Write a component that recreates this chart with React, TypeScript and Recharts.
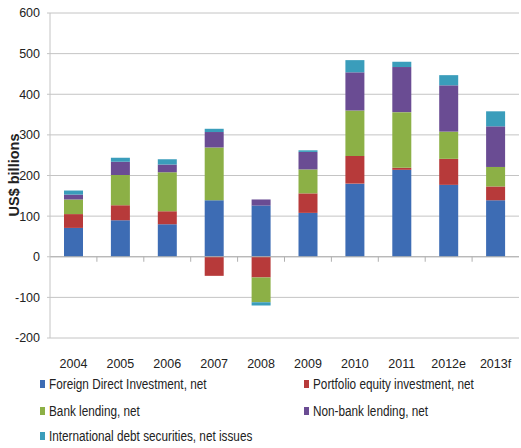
import React from "react";
import { BarChart, Bar, XAxis, YAxis, CartesianGrid, Label, ReferenceLine } from "recharts";

const years = ["2004", "2005", "2006", "2007", "2008", "2009", "2010", "2011", "2012e", "2013f"];
const fdi = [71, 90, 80, 139, 126, 108, 180, 214, 177, 139];
const portfolio = [34, 37, 32, -47, -51, 48, 68, 5, 64, 34];
const bank = [36, 74, 96, 130, -61, 59, 112, 137, 67, 48];
const nonBank = [12, 33, 19, 38, 15, 43, 94, 111, 114, 100];
const debtSec = [10, 10, 13, 8, -8, 4, 30, 13, 25, 37];
const yTicks = [-200, -100, 0, 100, 200, 300, 400, 500, 600];

const series = [
    { key: "fdi", name: "Foreign Direct Investment, net", color: "#3d6cb4" },
    { key: "portfolio", name: "Portfolio equity investment, net", color: "#b73a3a" },
    { key: "bank", name: "Bank lending, net", color: "#8cb046" },
    { key: "nonBank", name: "Non-bank lending, net", color: "#6a4c93" },
    { key: "debtSec", name: "International debt securities, net issues", color: "#3a9dbb" },
];

const data = years.map((year, i) => ({
    year,
    fdi: fdi[i],
    portfolio: portfolio[i],
    bank: bank[i],
    nonBank: nonBank[i],
    debtSec: debtSec[i],
}));

const font = "'Liberation Sans', Arial, sans-serif";

// zero line with small category-boundary ticks, like the Excel axis
function ZeroAxis(props: any) {
    const { x1, x2, y1 } = props;
    const step = (x2 - x1) / years.length;
    return (
        <g>
            <line x1={x1} x2={x2} y1={y1} y2={y1} stroke="#b0b0b0" />
            {years.slice(1).map((_, i) => (
                <line
                    key={i}
                    x1={x1 + step * (i + 1)}
                    x2={x1 + step * (i + 1)}
                    y1={y1}
                    y2={y1 + 5}
                    stroke="#b0b0b0"
                />
            ))}
        </g>
    );
}

function LegendItem({ name, color, x, y }: { name: string; color: string; x: number; y: number }) {
    return (
        <div style={{ position: "absolute", left: x, top: y, display: "flex", alignItems: "center", whiteSpace: "nowrap" }}>
            <span style={{ width: 5, height: 8, background: color, marginRight: 4 }} />
            <span
                style={{
                    fontSize: 14,
                    color: "#222",
                    fontFamily: font,
                    display: "inline-block",
                    transform: "scaleX(0.84)",
                    transformOrigin: "left center",
                }}
            >
                {name}
            </span>
        </div>
    );
}

export default function App() {
    return (
        <div style={{ position: "absolute", left: 0, top: 0, width: 521, height: 448, background: "#fff" }}>
            <BarChart
                width={521}
                height={373}
                data={data}
                stackOffset="sign"
                margin={{ top: 13, right: 2, bottom: 0, left: 0 }}
            >
                <CartesianGrid vertical={false} stroke="#c4c4c4" />
                <XAxis
                    dataKey="year"
                    axisLine={false}
                    tickLine={false}
                    tickSize={0}
                    tickMargin={21}
                    height={35}
                    interval={0}
                    tick={{ fontSize: 12.5, fill: "#222", fontFamily: font }}
                />
                <YAxis
                    domain={[-200, 600]}
                    ticks={yTicks}
                    width={50}
                    axisLine={{ stroke: "#c4c4c4" }}
                    tickLine={{ stroke: "#c4c4c4" }}
                    tickSize={3}
                    tickMargin={7}
                    tick={{ fontSize: 12.5, fill: "#222", fontFamily: font }}
                >
                    <Label
                        content={() => (
                            <text
                                x={14}
                                y={175}
                                transform="rotate(-90 14 175)"
                                textAnchor="middle"
                                dominantBaseline="central"
                                fontWeight="bold"
                                fontSize={14.5}
                                fill="#222"
                                fontFamily={font}
                            >
                                US$ billions
                            </text>
                        )}
                    />
                </YAxis>
                {series.map((s) => (
                    <Bar
                        key={s.key}
                        dataKey={s.key}
                        name={s.name}
                        stackId="a"
                        fill={s.color}
                        barSize={19}
                        isAnimationActive={false}
                    />
                ))}
                <ReferenceLine y={0} shape={ZeroAxis} />
            </BarChart>
            <LegendItem name={series[0].name} color={series[0].color} x={40} y={376} />
            <LegendItem name={series[1].name} color={series[1].color} x={304} y={376} />
            <LegendItem name={series[2].name} color={series[2].color} x={40} y={403} />
            <LegendItem name={series[3].name} color={series[3].color} x={304} y={403} />
            <LegendItem name={series[4].name} color={series[4].color} x={40} y={428} />
        </div>
    );
}
